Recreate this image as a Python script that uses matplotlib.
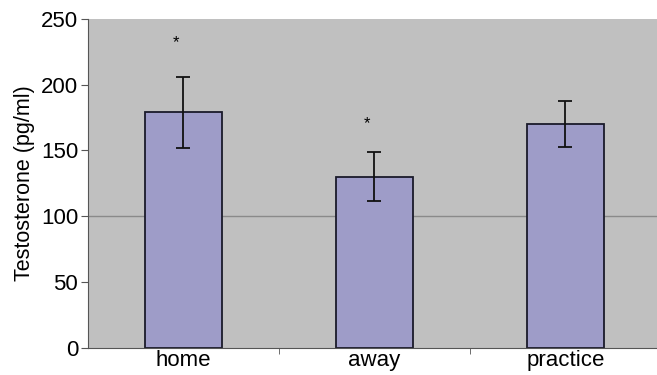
import matplotlib
matplotlib.use("Agg")
import matplotlib.pyplot as plt
import numpy as np

plt.rcParams['font.family'] = ['Liberation Sans', 'DejaVu Sans']

categories = ['home', 'away', 'practice']
means = [179, 130, 170]
errors = [27, 18.5, 17.5]
signif = [True, True, False]
star_y = [232, 170]

fig = plt.figure(figsize=(6.57, 3.75), dpi=100)
ax = fig.add_axes([88/657, 27.5/375, 1 - 88/657, (347.5 - 19)/375])
ax.set_facecolor('#c0c0c0')

x = np.arange(len(categories))
ax.axhline(100, color='#8a8a8a', lw=1, zorder=1)
ax.bar(x, means, width=0.40, color='#9e9cc8', edgecolor='#1a1a2a', lw=1.3, zorder=2)
ax.errorbar(x, means, yerr=errors, fmt='none', ecolor='#111111', elinewidth=1.3,
            capsize=5, capthick=1.3, zorder=3)

k = 0
for i, s in enumerate(signif):
    if s:
        ax.text(x[i] - 0.04, star_y[k], '*', ha='center', va='center', fontsize=12)
        k += 1

ax.set_xlim(-0.5, 2.48)
ax.set_ylim(0, 250)
ax.set_yticks([0, 50, 100, 150, 200, 250])
ax.set_xticks(x)
ax.set_xticklabels(categories, fontsize=16)
ax.tick_params(axis='x', length=0, pad=2)
ax.set_xticks([0.5, 1.5], minor=True)
ax.tick_params(axis='x', which='minor', length=4, color='#555555', direction='out')
ax.tick_params(axis='y', labelsize=16, length=5, color='#555555', pad=2)
ax.set_ylabel('Testosterone (pg/ml)', fontsize=15.5, labelpad=4)

for side in ['top', 'right']:
    ax.spines[side].set_visible(False)
ax.spines['left'].set_color('#555555')
ax.spines['bottom'].set_color('#555555')

fig.savefig('out.png', dpi=100)
